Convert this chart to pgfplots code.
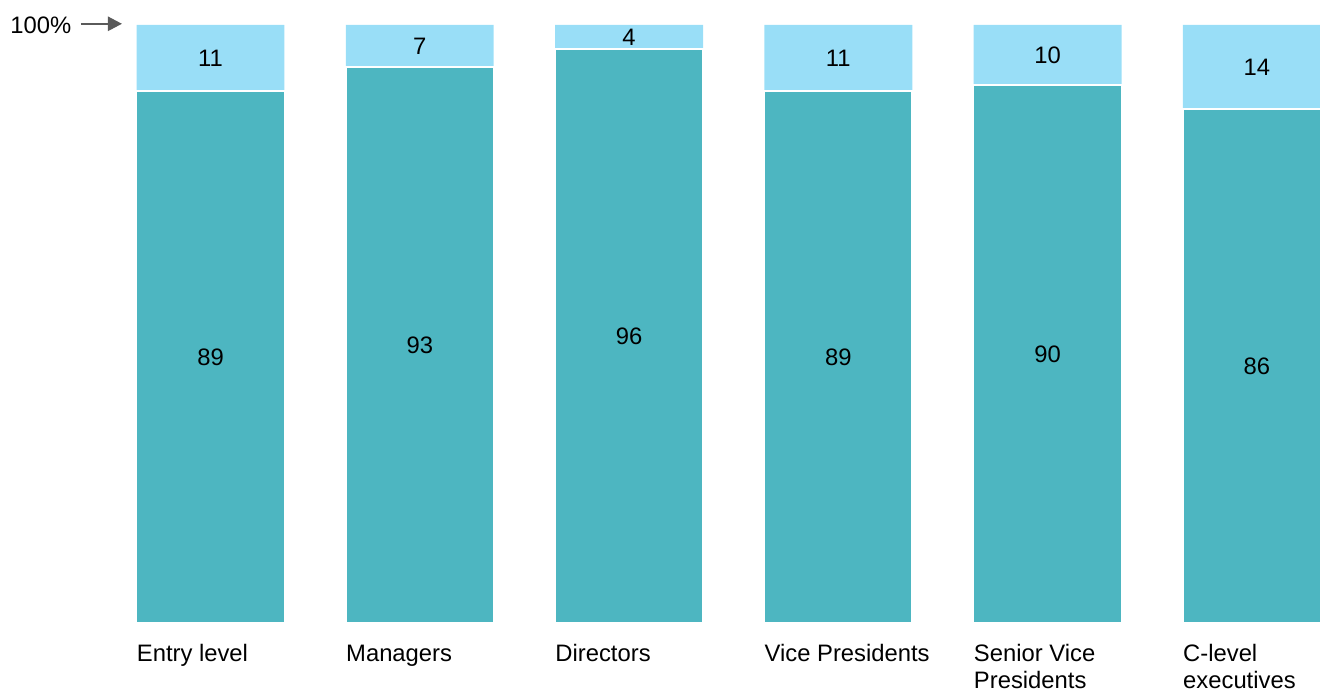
\documentclass[border=0pt]{standalone}
\usepackage{pgfplots}
\pgfplotsset{compat=1.18}
\usepackage{fontspec}
\setmainfont{Liberation Sans}
\usetikzlibrary{arrows.meta}
\definecolor{dark}{HTML}{4DB6C1}
\definecolor{light}{HTML}{99DEF7}
\definecolor{arr}{HTML}{5A5A5A}
\begin{document}
\begin{tikzpicture}
\begin{axis}[
  scale only axis, width=660pt, height=345.5pt,
  xmin=-1.006, xmax=5.302, ymin=-11.37, ymax=104.18,
  hide axis, clip=false,
  font=\fontsize{11.9pt}{13pt}\selectfont,
]
\coordinate (LL) at (rel axis cs:0,0);
\coordinate (UR) at (rel axis cs:1,1);
% light top segment drawn as full 100 bar
\addplot[ybar, bar width=0.707, bar shift=0pt, fill=light, draw=none]
  coordinates {(0,100) (1,100) (2,100) (3,100) (4,100) (5,100)};
% dark lower segment
\addplot[ybar, bar width=0.707, bar shift=0pt, fill=dark, draw=white, line width=0.9pt]
  coordinates {(0,89) (1,93) (2,96) (3,89) (4,90) (5,86)};
% labels of dark segments
\addplot[draw=none, mark=none, nodes near coords, point meta=explicit symbolic,
  every node near coord/.append style={anchor=center, inner sep=0pt}]
  table[meta=l] {
x y l
0 44.5 89
1 46.5 93
2 48 96
3 44.5 89
4 45 90
5 43 86
};
% labels of light segments
\addplot[draw=none, mark=none, nodes near coords, point meta=explicit symbolic,
  every node near coord/.append style={anchor=center, inner sep=0pt}]
  table[meta=l] {
x y l
0 94.5 11
1 96.5 7
2 98 4
3 94.5 11
4 95 10
5 93 14
};
\node[anchor=base west, inner sep=0pt] at (axis cs:-0.3535,-6.52) {Entry level};
\node[anchor=base west, inner sep=0pt] at (axis cs:0.6465,-6.52) {Managers};
\node[anchor=base west, inner sep=0pt] at (axis cs:1.6465,-6.52) {Directors};
\node[anchor=base west, inner sep=0pt] at (axis cs:2.6465,-6.52) {Vice Presidents};
\node[anchor=base west, inner sep=0pt] at (axis cs:3.6465,-6.52) {Senior Vice};
\node[anchor=base west, inner sep=0pt] at (axis cs:3.6465,-10.87) {Presidents};
\node[anchor=base west, inner sep=0pt] at (axis cs:4.6465,-6.52) {C-level};
\node[anchor=base west, inner sep=0pt] at (axis cs:4.6465,-10.87) {executives};
\node[anchor=base west, inner sep=0pt] at (axis cs:-0.958,98.66) {100\%};
\draw[arr, line width=1.2pt, -{Triangle[length=7pt,width=7pt]}] (axis cs:-0.619,100.2) -- (axis cs:-0.423,100.2);
\end{axis}
\pgfresetboundingbox
\path (LL) rectangle (UR);
\end{tikzpicture}
\end{document}
